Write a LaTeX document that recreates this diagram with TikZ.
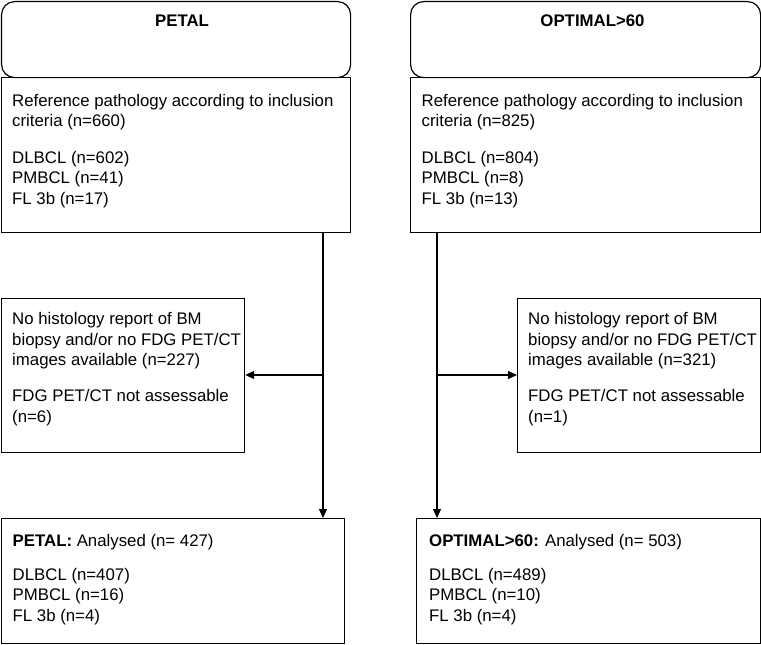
\documentclass[tikz,border=0pt]{standalone}
\usepackage{fontspec}
\setmainfont{Liberation Sans}
\usetikzlibrary{arrows.meta}
\begin{document}
\begin{tikzpicture}[x=1pt,y=-1pt,
  box/.style={draw, line width=1.2pt, inner sep=0pt, anchor=north west},
  hdr/.style={box, rounded corners=13pt},
  txt/.style={anchor=base west, inner sep=0pt, align=left, font=\fontsize{16.8}{20.6}\selectfont},
  ttl/.style={anchor=base, inner sep=0pt, font=\fontsize{16.8}{20.6}\selectfont\bfseries},
  arr/.style={line width=1.2pt, -{Triangle[length=9pt,width=8pt]}}]
\useasboundingbox (0,0) rectangle (761,645);
% left column
\node[hdr, minimum width=349pt, minimum height=76pt] (hL) at (1,1) {};
\node[ttl] (tL) at (182,26) {PETAL};
\node[box, minimum width=349pt, minimum height=155pt] (bL) at (1,77) {};
\node[txt] (bLt) at (12,204.2) {Reference pathology according to inclusion\\criteria (n=660)\\[15.5pt]DLBCL (n=602)\\PMBCL (n=41)\\FL 3b (n=17)};
\node[box, minimum width=243pt, minimum height=154.5pt] (eL) at (1,297.5) {};
\node[txt] (eLt) at (12,422) {No histology report of BM\\biopsy and/or no FDG PET/CT\\images available (n=227)\\[15pt]FDG PET/CT not assessable\\(n=6)};
\node[box, minimum width=343pt, minimum height=125pt] (aL) at (1,518) {};
\node[txt] (aLt) at (12.5,621.5) {\textbf{PETAL:} Analysed (n= 427)\\[13pt]DLBCL (n=407)\\PMBCL (n=16)\\FL 3b (n=4)};
% right column
\node[hdr, minimum width=350pt, minimum height=76pt] (hR) at (410,1) {};
\node[ttl] (tR) at (592.5,26) {OPTIMAL>60};
\node[box, minimum width=350pt, minimum height=155pt] (bR) at (410,77) {};
\node[txt] (bRt) at (421.5,204.2) {Reference pathology according to inclusion\\criteria (n=825)\\[15.5pt]DLBCL (n=804)\\PMBCL (n=8)\\FL 3b (n=13)};
\node[box, minimum width=243pt, minimum height=154.5pt] (eR) at (517,297.5) {};
\node[txt] (eRt) at (528,422) {No histology report of BM\\biopsy and/or no FDG PET/CT\\images available (n=321)\\[15pt]FDG PET/CT not assessable\\(n=1)};
\node[box, minimum width=344pt, minimum height=125pt] (aR) at (416,518) {};
\node[txt] (aRt) at (429,621.5) {\textbf{OPTIMAL>60:} Analysed (n= 503)\\[13pt]DLBCL (n=489)\\PMBCL (n=10)\\FL 3b (n=4)};
% connectors
\coordinate (jL) at (323,375);
\coordinate (jR) at (437,375);
\draw[arr] (bL.south -| jL) -- (aL.north -| jL);
\draw[arr] (jL) -- (eL.east |- jL);
\draw[arr] (bR.south -| jR) -- (aR.north -| jR);
\draw[arr] (jR) -- (eR.west |- jR);
\end{tikzpicture}
\end{document}
